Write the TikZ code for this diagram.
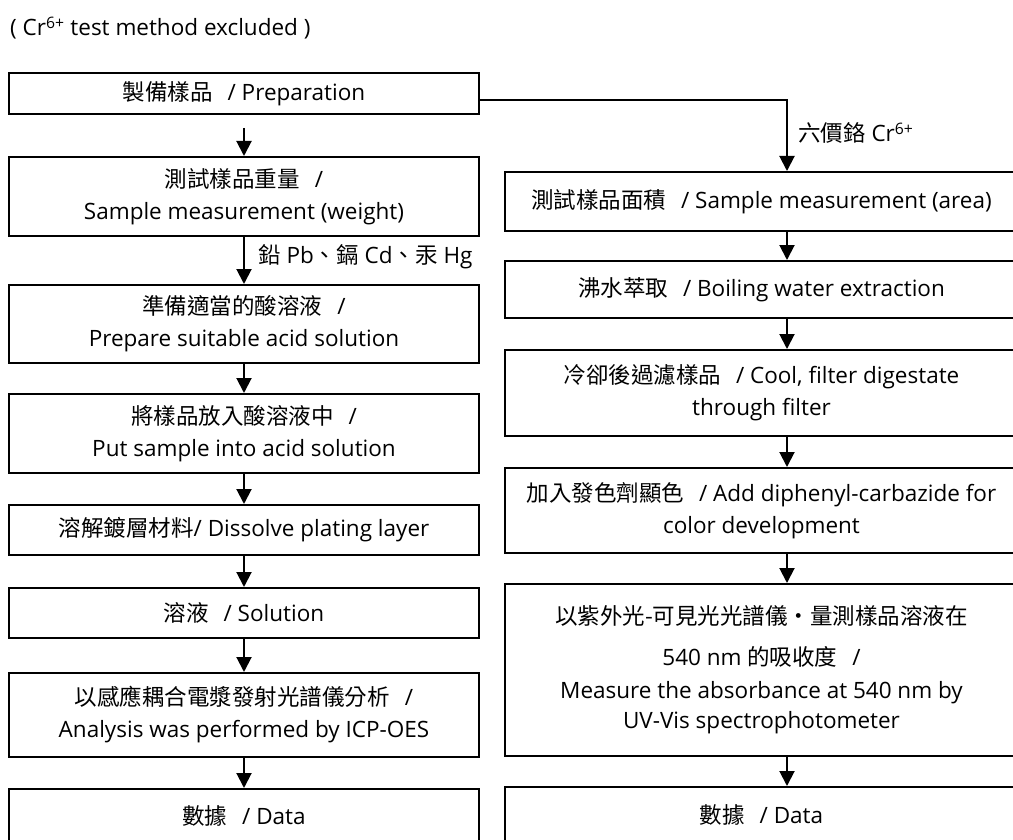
\documentclass[tikz,border=0pt]{standalone}
\usepackage{fontspec}
\setmainfont{Open Sans}
\newfontfamily\zhfont{Noto Sans CJK TC}
\usetikzlibrary{arrows.meta}
\newcommand{\zh}[1]{{\zhfont #1}}
\tikzset{
  stage/.style = {draw, line width = 2pt, inner sep = 0pt, align = center,
                  font = \fontsize{22.5}{32}\selectfont},
  lstage/.style = {stage, minimum width = 470pt},
  rstage/.style = {stage, minimum width = 513pt},
  flow/.style = {line width = 2pt, -{Triangle[width = 15pt, length = 15pt]}},
  note/.style = {anchor = west, inner sep = 0pt, font = \fontsize{22.5}{32}\selectfont}
}

\begin{document}
\begin{tikzpicture}[x = 1pt, y = -1pt]
    \useasboundingbox (0,0) rectangle (1013,840);
    \clip (0,0) rectangle (1013,840);

    \node [note] (title) at (10,28) {( Cr\textsuperscript{6+} test method excluded )};

    % left column: Pb, Cd, Hg
    \node [lstage, minimum height = 41pt] (prep) at (244,93.5) {\zh{製備樣品}\hspace{0.4em} / Preparation};
    \node [lstage, minimum height = 79pt] (weigh) at (244,196.5) {\zh{測試樣品重量}\hspace{0.4em} / \\ Sample measurement (weight)};
    \node [lstage, minimum height = 78pt] (acid) at (244,324) {\zh{準備適當的酸溶液}\hspace{0.4em} / \\ Prepare suitable acid solution};
    \node [lstage, minimum height = 79pt] (immerse) at (244,433.5) {\zh{將樣品放入酸溶液中}\hspace{0.4em} / \\ Put sample into acid solution};
    \node [lstage, minimum height = 50pt] (dissolve) at (244,530) {\zh{溶解鍍層材料}/ Dissolve plating layer};
    \node [lstage, minimum height = 50pt] (soln) at (244,613) {\zh{溶液}\hspace{0.4em} / Solution};
    \node [lstage, minimum height = 84pt] (icp) at (244,715) {\zh{以感應耦合電漿發射光譜儀分析}\hspace{0.4em} / \\ Analysis was performed by ICP-OES};
    \node [lstage, minimum height = 53pt] (ldata) at (244,815.5) {\zh{數據}\hspace{0.4em} / Data};
    \node [note] (metals) at (258,257) {\zh{鉛} Pb\zh{、鎘} Cd\zh{、汞} Hg};

    \draw [flow, shorten <= 13pt] (prep) -- (weigh);
    \draw [flow] (weigh) -- (acid);
    \draw [flow] (acid) -- (immerse);
    \draw [flow] (immerse) -- (dissolve);
    \draw [flow] (dissolve) -- (soln);
    \draw [flow] (soln) -- (icp);
    \draw [flow] (icp) -- (ldata);

    % right column: Cr6+
    \coordinate (rcol) at (787,100);
    \node [rstage, minimum height = 59pt] (area) at (761.5,201.5) {\zh{測試樣品面積}\hspace{0.4em} / Sample measurement (area)};
    \node [rstage, minimum height = 57pt] (boil) at (761.5,289.5) {\zh{沸水萃取}\hspace{0.4em} / Boiling water extraction};
    \node [rstage, minimum height = 86pt] (cool) at (761.5,393) {\zh{冷卻後過濾樣品}\hspace{0.4em} / Cool, filter digestate \\ through filter};
    \node [rstage, minimum height = 85pt] (color) at (761.5,510.5) {\zh{加入發色劑顯色}\hspace{0.4em} / Add diphenyl-carbazide for \\ color development};
    \node [rstage, minimum height = 172pt] (uvvis) at (761.5,670) {\zh{以紫外光-可見光光譜儀・量測樣品溶液在} \\[9pt] 540 nm \zh{的吸收度}\hspace{0.4em} / \\[1pt] Measure the absorbance at 540 nm by \\[-2pt] UV-Vis spectrophotometer};
    \node [rstage, minimum height = 55pt] (rdata) at (761.5,814.5) {\zh{數據}\hspace{0.4em} / Data};
    \node [note] (crlabel) at (798,133) {\zh{六價鉻} Cr\textsuperscript{6+}};

    \draw [flow] (prep.east |- rcol) -- (rcol) -- (area.north -| rcol);
    \draw [flow] (area.south -| rcol) -- (boil.north -| rcol);
    \draw [flow] (boil.south -| rcol) -- (cool.north -| rcol);
    \draw [flow] (cool.south -| rcol) -- (color.north -| rcol);
    \draw [flow] (color.south -| rcol) -- (uvvis.north -| rcol);
    \draw [flow] (uvvis.south -| rcol) -- (rdata.north -| rcol);
\end{tikzpicture}
\end{document}
